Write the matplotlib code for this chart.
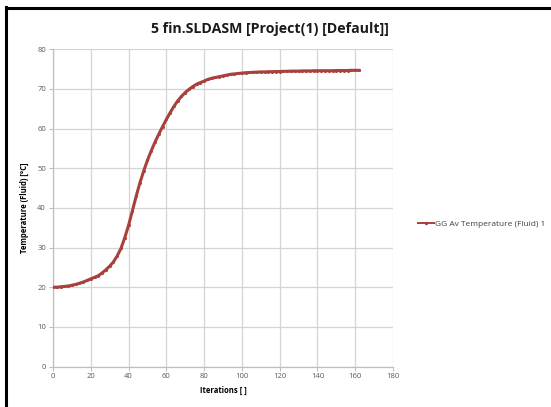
import matplotlib
matplotlib.use("Agg")
import matplotlib.pyplot as plt
from matplotlib.lines import Line2D

# iterations and average fluid temperature
iterations = list(range(0, 163, 2))
temperature = [
    20.0, 20.0, 20.1, 20.2, 20.3, 20.5, 20.7, 21.0, 21.3, 21.7,
    22.1, 22.5, 22.9, 23.6, 24.4, 25.3, 26.4, 27.9, 29.8, 32.5,
    35.6, 39.2, 42.9, 46.3, 49.3, 52.0, 54.4, 56.6, 58.6, 60.5,
    62.3, 64.0, 65.6, 67.0, 68.1, 69.1, 69.9, 70.6, 71.2, 71.6,
    72.0, 72.4, 72.7, 72.9, 73.1, 73.3, 73.5, 73.7, 73.8, 73.9,
    74.0, 74.1, 74.15, 74.2, 74.25, 74.3, 74.3, 74.35, 74.35, 74.4,
    74.4, 74.45, 74.45, 74.5, 74.5, 74.5, 74.55, 74.55, 74.55, 74.6,
    74.6, 74.6, 74.6, 74.6, 74.6, 74.65, 74.65, 74.65, 74.65, 74.7,
    74.7, 74.7,
]
series_name = "GG Av Temperature (Fluid) 1"
title = "5 fin.SLDASM [Project(1) [Default]]"
xticks = list(range(0, 181, 20))
yticks = list(range(0, 81, 10))

plt.rcParams["font.family"] = ["Open Sans", "DejaVu Sans"]

fig = plt.figure(figsize=(5.51, 4.07), dpi=100)
ax = fig.add_axes([53 / 551, 1 - 366.5 / 407, 340 / 551, 317.2 / 407])

red = "#A8403C"
ax.plot(iterations, temperature, color=red, linewidth=2.2, marker="o",
        markersize=2.2, markeredgewidth=0, label=series_name, zorder=3)

ax.set_xlim(0, 180)
ax.set_ylim(0, 80)
ax.set_xticks(xticks)
ax.set_yticks(yticks)
ax.grid(color="#d4d4d4", linewidth=0.9, zorder=0)
for s in ["top", "right"]:
    ax.spines[s].set_visible(False)
for s in ["left", "bottom"]:
    ax.spines[s].set_color("#bfbfbf")
    ax.spines[s].set_linewidth(0.9)
ax.tick_params(axis="both", labelsize=5.5, colors="#595959", length=3,
               width=0.8, color="#bfbfbf", pad=2)

ax.set_xlabel("Iterations [ ]", fontsize=5.5, fontweight="bold", labelpad=4)
ax.set_ylabel("Temperature (Fluid) [°C]", fontsize=5.5, fontweight="bold", labelpad=6)

fig.text(270 / 551, 1 - 29 / 407, title, ha="center", va="center",
         fontsize=10.2, fontweight="bold", color="#1a1a1a")

leg = ax.legend(loc="center left", bbox_to_anchor=(1.05, 0.45), frameon=False,
                fontsize=6, handlelength=2.0, handletextpad=0.1,
                labelcolor="#404040")
for h in leg.legend_handles:
    h.set_linewidth(1.4)
    h.set_markersize(2.5)

# screenshot frame
fig.add_artist(Line2D([6 / 551, 6 / 551], [0, 1 - 7 / 407], color="black",
                      linewidth=2.2, transform=fig.transFigure))
fig.add_artist(Line2D([6 / 551, 1], [1 - 8 / 407, 1 - 8 / 407], color="black",
                      linewidth=2.2, transform=fig.transFigure))

fig.savefig("out.png", dpi=100)
